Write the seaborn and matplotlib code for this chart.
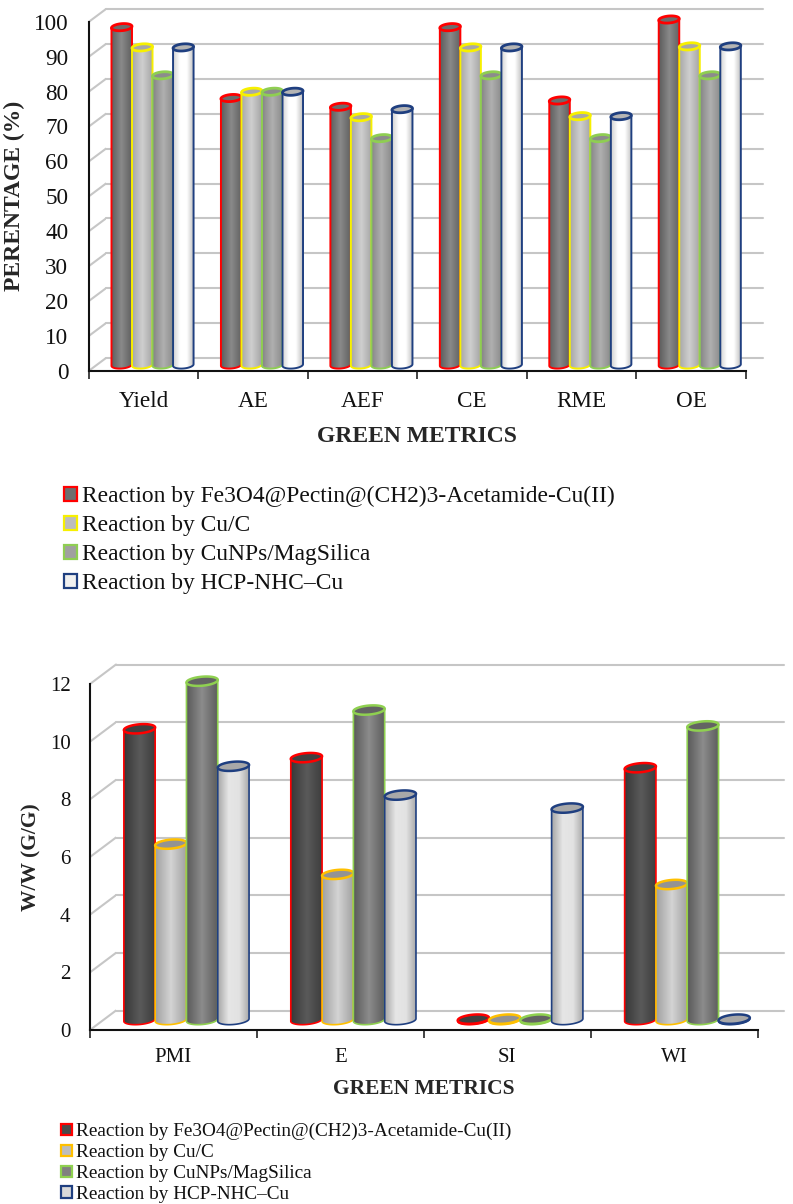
#!/usr/bin/env python3
"""
Green metrics comparison - two pseudo 3D cylinder bar charts
"""

import matplotlib.pyplot as plt
import numpy as np
import pandas as pd
import seaborn as sns
from matplotlib.colors import LinearSegmentedColormap
from matplotlib.lines import Line2D
from matplotlib.patches import Patch, Polygon

REACTIONS = [
    "Reaction by Fe3O4@Pectin@(CH2)3-Acetamide-Cu(II)",
    "Reaction by Cu/C",
    "Reaction by CuNPs/MagSilica",
    "Reaction by HCP-NHC\u2013Cu",
]

TOP_METRICS = ["Yield", "AE", "AEF", "CE", "RME", "OE"]
TOP_FE3O4 = [96.8, 76.5, 74, 96.8, 75.8, 99]
TOP_CU_C = [91, 78.3, 71, 91, 71.3, 91.3]
TOP_MAGSILICA = [83, 78.3, 65, 83, 65, 83]
TOP_HCP = [91, 78.3, 73.3, 91, 71.3, 91.3]
TOP_TICKS = [0, 10, 20, 30, 40, 50, 60, 70, 80, 90, 100]

BOTTOM_METRICS = ["PMI", "E", "SI", "WI"]
BOTTOM_FE3O4 = [10.1, 9.1, 0.03, 8.75]
BOTTOM_CU_C = [6.1, 5.05, 0.03, 4.7]
BOTTOM_MAGSILICA = [11.75, 10.75, 0.03, 10.2]
BOTTOM_HCP = [8.8, 7.8, 7.35, 0.03]
BOTTOM_TICKS = [0, 2, 4, 6, 8, 10, 12]

WIDTH_PX, HEIGHT_PX = 793, 1204

TOP_STYLE = {
    "left": 89, "right": 745.7, "base": 370.7, "top": 21.7,
    "back": (17, -12.7), "bars": (8.8, -5.7),
    "cap_h": 7, "cap_tilt": 0.8, "edge_lw": 1.4, "cap_lw": 2.0,
    "edges": ["#ff0000", "#f7f000", "#8fce52", "#1f3f80"],
    "caps": ["#6c6c6c", "#a8a8a8", "#8c8c8c", "#b4b4b4"],
    "gradients": [
        ["#5c5c5c", "#8a8a8a", "#606060"],
        ["#a6a6a6", "#cfcfcf", "#a4a4a4"],
        ["#858585", "#b0b0b0", "#8a8a8a"],
        ["#d0d0d0", "#ffffff", "#ffffff", "#c0c0c0"],
    ],
    "swatches": ["#6e6e6e", "#bdbdbd", "#a0a0a0", "#f0f0f0"],
    "swatch_px": (13, 13),
    "tick_size": 16.7, "label_size": 17.0, "legend_size": 16.9,
    "ylabel": "PERENTAGE (%)", "ylabel_x": 14, "xlabel_y": 436,
    "tick_pad": 15, "x_pad": 14.5,
    "legend_xy": (64, 486), "label_spacing": 0.34,
}

BOTTOM_STYLE = {
    "left": 90, "right": 757.7, "base": 1030, "top": 684,
    "back": (26, -19.5), "bars": (13, -10),
    "cap_h": 9, "cap_tilt": 1.3, "edge_lw": 1.2, "cap_lw": 1.8,
    "edges": ["#ff0000", "#ffc000", "#8fd050", "#1f3f80"],
    "caps": ["#404040", "#939393", "#636363", "#a8a8a8"],
    "gradients": [
        ["#383838", "#5a5a5a", "#3c3c3c"],
        ["#a0a0a0", "#d4d4d4", "#a0a0a0"],
        ["#585858", "#8c8c8c", "#5c5c5c"],
        ["#a8a8a8", "#e6e6e6", "#e2e2e2", "#a4a4a4"],
    ],
    "swatches": ["#4a4a4a", "#bdbdbd", "#808080", "#d9d9d9"],
    "swatch_px": (11, 10),
    "tick_size": 15, "label_size": 15.5, "legend_size": 13.9,
    "ylabel": "W/W (G/G)", "ylabel_x": 31, "xlabel_y": 1089,
    "tick_pad": 14, "x_pad": 13,
    "legend_xy": (61, 1123), "label_spacing": 0.2,
}


def px_rect(left, top, right, bottom):
    """Axes rectangle in figure fractions from pixel edges."""
    return [
        left / WIDTH_PX,
        1 - bottom / HEIGHT_PX,
        (right - left) / WIDTH_PX,
        (bottom - top) / HEIGHT_PX,
    ]


def draw_cylinders(ax, style, units_per_px):
    """Turn the seaborn bars into shaded cylinders."""
    t = np.linspace(0, 2 * np.pi, 90)
    half_h = style["cap_h"] / 2 * units_per_px
    tilt = style["cap_tilt"] * units_per_px

    for i, container in enumerate(ax.containers):
        cmap = LinearSegmentedColormap.from_list(f"cyl{i}", style["gradients"][i])
        edge = style["edges"][i]
        for bar in container:
            x0, w, v = bar.get_x(), bar.get_width(), bar.get_height()
            bar.set_visible(False)
            cx = x0 + w / 2

            # Body: rectangle closed by the lower half of an ellipse
            lower = np.linspace(np.pi, 2 * np.pi, 45)
            lx = cx + w / 2 * np.cos(lower)
            ly = half_h * np.sin(lower) + tilt * np.cos(lower)
            outline = np.column_stack(
                [np.r_[lx, x0 + w, x0], np.r_[ly, v + tilt, v - tilt]]
            )
            im = ax.imshow(
                np.linspace(0, 1, 128).reshape(1, -1),
                extent=(x0, x0 + w, -3 * half_h, v + 2 * half_h),
                cmap=cmap,
                aspect="auto",
                interpolation="bilinear",
                zorder=2 + i,
            )
            im.set_clip_path(Polygon(outline, transform=ax.transData))
            im.set_clip_box(ax.figure.bbox)

            ax.plot(
                np.r_[x0, lx, x0 + w],
                np.r_[v - tilt, ly, v + tilt],
                color=edge,
                lw=style["edge_lw"],
                clip_on=False,
                zorder=2 + i,
            )

            # Top cap
            ax.fill(
                cx + w / 2 * np.cos(t),
                v + half_h * np.sin(t) + tilt * np.cos(t),
                facecolor=style["caps"][i],
                edgecolor=edge,
                lw=style["cap_lw"],
                clip_on=False,
                zorder=2.5 + i,
            )


def draw_panel(fig, metrics, series, ticks, style):
    """Draw walls, axis, cylinders and legend of one chart."""
    left, right, base, top = style["left"], style["right"], style["base"], style["top"]
    back_dx, back_dy = style["back"]
    bars_dx, bars_dy = style["bars"]
    px_per_unit = (base - top) / ticks[-1]

    # Back wall with the gridlines
    ax_back = fig.add_axes(
        px_rect(left + back_dx, top + back_dy, right + back_dx, base + back_dy), zorder=1
    )
    ax_back.set_xlim(0, 1)
    ax_back.set_ylim(ticks[0], ticks[-1])
    ax_back.set_yticks(ticks)
    ax_back.set_xticks([])
    ax_back.tick_params(left=False, labelleft=False)
    ax_back.grid(axis="y", color="#c6c6c6", lw=1.5)
    sns.despine(ax=ax_back, left=True, bottom=True)
    for line in ax_back.get_ygridlines():
        line.set_clip_on(False)

    # Side wall diagonals
    for tick in ticks:
        y = base - tick * px_per_unit
        fig.add_artist(
            Line2D(
                [left / WIDTH_PX, (left + back_dx) / WIDTH_PX],
                [1 - y / HEIGHT_PX, 1 - (y + back_dy) / HEIGHT_PX],
                color="#c6c6c6",
                lw=1.5,
                zorder=0.5,
            )
        )

    # Front axis with ticks and labels
    n = len(metrics)
    ax_front = fig.add_axes(px_rect(left, top, right, base), zorder=2)
    ax_front.patch.set_visible(False)
    ax_front.set_xlim(0, n)
    ax_front.set_ylim(ticks[0], ticks[-1])
    ax_front.set_yticks(ticks)
    ax_front.set_yticklabels([str(v) for v in ticks], fontsize=style["tick_size"])
    ax_front.set_xticks(range(n + 1))
    ax_front.set_xticklabels([])
    ax_front.set_xticks(np.arange(n) + 0.5, metrics, minor=True, fontsize=style["tick_size"])
    ax_front.tick_params(axis="y", length=0, pad=style["tick_pad"], colors="#111111")
    ax_front.tick_params(axis="x", which="major", length=6, width=1.1, color="#111111", bottom=True)
    ax_front.tick_params(
        axis="x", which="minor", length=0, pad=style["x_pad"], labelcolor="#111111", bottom=False
    )
    sns.despine(ax=ax_front)
    for side in ("left", "bottom"):
        ax_front.spines[side].set_linewidth(1.5)
        ax_front.spines[side].set_color("#111111")
    ax_front.set_ylabel(style["ylabel"], fontsize=style["label_size"], fontweight="bold")
    ax_front.yaxis.set_label_coords((style["ylabel_x"] - left) / (right - left), 0.5)
    ax_front.set_xlabel("GREEN METRICS", fontsize=style["label_size"], fontweight="bold")
    ax_front.xaxis.set_label_coords(0.5, (base - style["xlabel_y"]) / (base - top))
    ax_front.xaxis.label.set_verticalalignment("center")
    ax_front.yaxis.label.set_verticalalignment("center")

    # Cylinders sit half way into the depth of the chart
    ax_bars = fig.add_axes(
        px_rect(left + bars_dx, top + bars_dy, right + bars_dx, base + bars_dy), zorder=3
    )
    df = pd.DataFrame(
        {
            "metric": metrics * len(REACTIONS),
            "value": np.concatenate(series),
            "reaction": np.repeat(REACTIONS, n),
        }
    )
    sns.barplot(
        data=df,
        x="metric",
        y="value",
        hue="reaction",
        hue_order=REACTIONS,
        width=0.75,
        gap=0,
        errorbar=None,
        legend=False,
        ax=ax_bars,
    )
    draw_cylinders(ax_bars, style, 1 / px_per_unit)
    ax_bars.set_xlim(-0.5, n - 0.5)
    ax_bars.set_ylim(ticks[0], ticks[-1])
    ax_bars.set_axis_off()

    # Legend
    handles = [
        Patch(facecolor=face, edgecolor=edge, lw=1.6, label=name)
        for face, edge, name in zip(style["swatches"], style["edges"], REACTIONS)
    ]
    font_px = style["legend_size"] * 100 / 72
    fig.legend(
        handles=handles,
        loc="upper left",
        bbox_to_anchor=(style["legend_xy"][0] / WIDTH_PX, 1 - style["legend_xy"][1] / HEIGHT_PX),
        frameon=False,
        fontsize=style["legend_size"],
        handlelength=style["swatch_px"][0] / font_px,
        handleheight=style["swatch_px"][1] / font_px,
        handletextpad=0.2,
        labelspacing=style["label_spacing"],
        borderpad=0,
        borderaxespad=0,
        labelcolor="#111111",
    )


def main():
    sns.set_theme(style="white")
    plt.rcParams["font.family"] = ["Liberation Serif", "DejaVu Serif"]

    fig = plt.figure(figsize=(WIDTH_PX / 100, HEIGHT_PX / 100), dpi=100)
    draw_panel(
        fig, TOP_METRICS, [TOP_FE3O4, TOP_CU_C, TOP_MAGSILICA, TOP_HCP], TOP_TICKS, TOP_STYLE
    )
    draw_panel(
        fig,
        BOTTOM_METRICS,
        [BOTTOM_FE3O4, BOTTOM_CU_C, BOTTOM_MAGSILICA, BOTTOM_HCP],
        BOTTOM_TICKS,
        BOTTOM_STYLE,
    )
    fig.savefig("out.png", dpi=100)
    plt.close(fig)


if __name__ == "__main__":
    main()
